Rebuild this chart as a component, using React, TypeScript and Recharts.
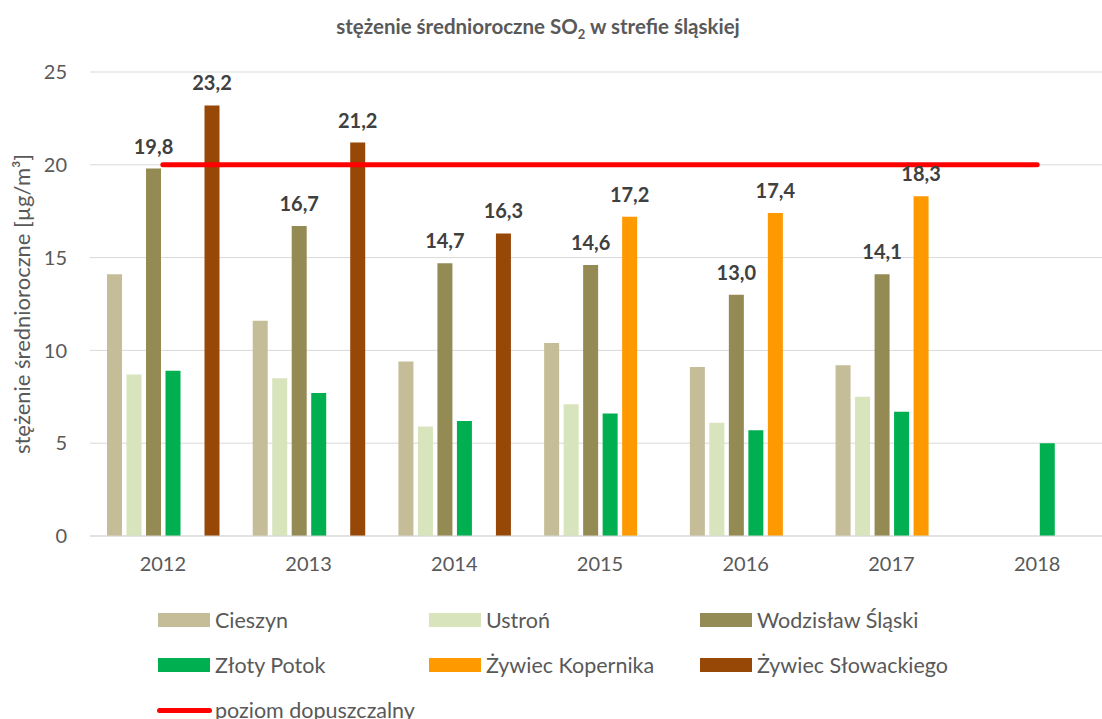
import React from "react";
import {
  Bar,
  CartesianGrid,
  ComposedChart,
  LabelList,
  Line,
  XAxis,
  YAxis,
} from "recharts";

const years = ["2012", "2013", "2014", "2015", "2016", "2017", "2018"];
const cieszyn = [14.1, 11.6, 9.4, 10.4, 9.1, 9.2, null];
const ustron = [8.7, 8.5, 5.9, 7.1, 6.1, 7.5, null];
const wodzislaw = [19.8, 16.7, 14.7, 14.6, 13.0, 14.1, null];
const zlotyPotok = [8.9, 7.7, 6.2, 6.6, 5.7, 6.7, 5.0];
const kopernika = [null, null, null, 17.2, 17.4, 18.3, null];
const slowackiego = [23.2, 21.2, 16.3, null, null, null, null];
const limit = [20, 20, 20, 20, 20, 20, 20];
const yTicks = [0, 5, 10, 15, 20, 25];

const series = [
  { key: "cieszyn", name: "Cieszyn", color: "#C4BD97", labeled: false },
  { key: "ustron", name: "Ustroń", color: "#D8E4BC", labeled: false },
  { key: "wodzislaw", name: "Wodzisław Śląski", color: "#948A54", labeled: true },
  { key: "zlotyPotok", name: "Złoty Potok", color: "#00B050", labeled: false },
  { key: "kopernika", name: "Żywiec Kopernika", color: "#FF9900", labeled: true },
  { key: "slowackiego", name: "Żywiec Słowackiego", color: "#974706", labeled: true },
];

const data = years.map((year, i) => ({
  year,
  cieszyn: cieszyn[i],
  ustron: ustron[i],
  wodzislaw: wodzislaw[i],
  zlotyPotok: zlotyPotok[i],
  kopernika: kopernika[i],
  slowackiego: slowackiego[i],
  limit: limit[i],
}));

const FONT = "Lato, 'Open Sans', sans-serif";
const GREY = "#595959";

const fmt = (v: unknown) =>
  typeof v === "number" ? v.toFixed(1).replace(".", ",") : "";

function LegendBox() {
  const cols = [158, 429, 700];
  const rows = [620, 665];
  return (
    <>
      {series.map((s, i) => (
        <div
          key={s.key}
          style={{
            position: "absolute",
            left: cols[i % 3],
            top: rows[Math.floor(i / 3)] - 12,
            height: 24,
            display: "flex",
            alignItems: "center",
            fontSize: 21.5,
            color: GREY,
            whiteSpace: "nowrap",
          }}
        >
          <span style={{ width: 52, height: 14, background: s.color, marginRight: 5 }} />
          {s.name}
        </div>
      ))}
      <div
        style={{
          position: "absolute",
          left: 157,
          top: 698,
          height: 24,
          display: "flex",
          alignItems: "center",
          fontSize: 21.5,
          color: GREY,
          whiteSpace: "nowrap",
        }}
      >
        <span
          style={{
            width: 55,
            height: 5,
            borderRadius: 3,
            background: "#FF0000",
            marginRight: 3,
          }}
        />
        poziom dopuszczalny
      </div>
    </>
  );
}

export default function App() {
  return (
    <div
      style={{
        position: "absolute",
        left: 0,
        top: 0,
        width: 1102,
        height: 719,
        overflow: "hidden",
        background: "#fff",
        fontFamily: FONT,
      }}
    >
      <div
        style={{
          position: "absolute",
          left: 0,
          top: 14,
          width: 1076,
          textAlign: "center",
          fontWeight: "bold",
          fontSize: 20.5,
          color: GREY,
        }}
      >
        stężenie średnioroczne SO<sub style={{ fontSize: 13 }}>2</sub> w strefie śląskiej
      </div>
      <ComposedChart
        width={1120}
        height={719}
        data={data}
        margin={{ top: 72, right: 10, left: 0, bottom: 153 }}
        barCategoryGap={0}
        barGap={4.5}
      >
        <CartesianGrid vertical={false} stroke="#D9D9D9" />
        <XAxis
          dataKey="year"
          height={30}
          tickLine={false}
          tickSize={0}
          tickMargin={21}
          axisLine={{ stroke: "#D9D9D9" }}
          tick={{ fontSize: 20, fill: GREY }}
        />
        <YAxis
          width={90}
          domain={[0, 25]}
          ticks={yTicks}
          tickLine={false}
          axisLine={false}
          tickSize={0}
          tickMargin={23}
          tick={{ fontSize: 20, fill: GREY }}
          label={{
            value: "stężenie średnioroczne [µg/m³]",
            angle: -90,
            position: "center",
            dx: -23,
            style: { fontSize: 22, fill: GREY },
          }}
        />
        {series.map((s) => (
          <Bar
            key={s.key}
            dataKey={s.key}
            name={s.name}
            fill={s.color}
            barSize={15}
            isAnimationActive={false}
          >
            {s.labeled && (
              <LabelList
                dataKey={s.key}
                position="top"
                offset={15}
                formatter={fmt}
                style={{ fontSize: 20, fontWeight: "bold", fill: "#404040" }}
              />
            )}
          </Bar>
        ))}
        <Line
          dataKey="limit"
          name="poziom dopuszczalny"
          stroke="#FF0000"
          strokeWidth={5}
          strokeLinecap="round"
          dot={false}
          activeDot={false}
          isAnimationActive={false}
        />
      </ComposedChart>
      <LegendBox />
    </div>
  );
}
